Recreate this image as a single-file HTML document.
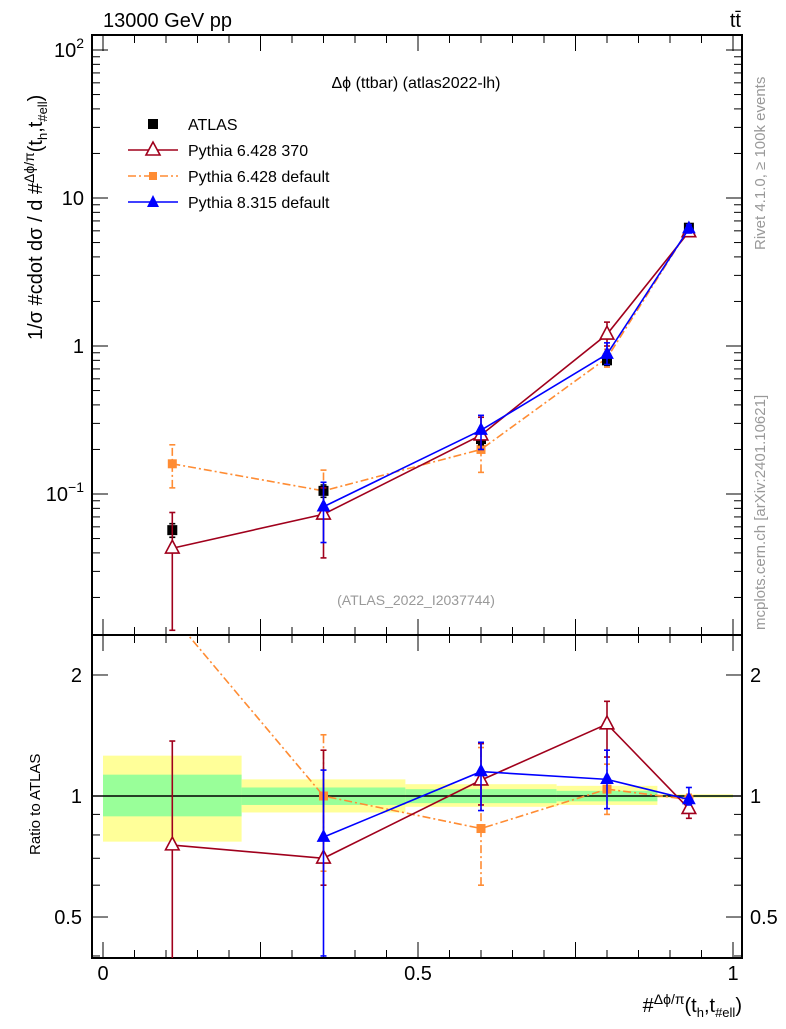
<!DOCTYPE html>
<html><head><meta charset="utf-8"><style>
body{margin:0;background:#fff;width:786px;height:1024px;overflow:hidden;font-family:"Liberation Sans",sans-serif}
svg text{font-family:"Liberation Sans",sans-serif}
</style></head><body>
<svg id="c" width="786" height="1024">
<text x="103" y="27" font-size="20">13000 GeV pp</text>
<text x="741" y="27" font-size="20" text-anchor="end">tt̄</text>
<text x="416" y="88" font-size="16" text-anchor="middle">Δϕ (ttbar) (atlas2022-lh)</text>
<text x="416" y="605" font-size="14" fill="#999" text-anchor="middle">(ATLAS_2022_I2037744)</text>
<text transform="translate(765,250) rotate(-90)" font-size="15" fill="#999">Rivet 4.1.0, ≥ 100k events</text>
<text transform="translate(765,630) rotate(-90)" font-size="15" fill="#999">mcplots.cern.ch [arXiv:2401.10621]</text>
<text transform="translate(42,340) rotate(-90)" font-size="20">1/σ #cdot dσ / d #<tspan font-size="14" dy="-8">Δϕ/π</tspan><tspan dy="8">(t</tspan><tspan font-size="13" dy="5">h</tspan><tspan dy="-5">,t</tspan><tspan font-size="13" dy="5">#ell</tspan><tspan dy="-5">)</tspan></text>
<text transform="translate(40,855) rotate(-90)" font-size="15">Ratio to ATLAS</text>
<text x="742" y="1012" font-size="20" text-anchor="end">#<tspan font-size="14" dy="-8">Δϕ/π</tspan><tspan dy="8">(t</tspan><tspan font-size="13" dy="5">h</tspan><tspan dy="-5">,t</tspan><tspan font-size="13" dy="5">#ell</tspan><tspan dy="-5">)</tspan></text>
</svg>
<script>
const xCenters=[0.11,0.35,0.6,0.8,0.93];
const binEdges=[0,0.22,0.48,0.72,0.88,1];
const atlas=[0.057,0.105,0.235,0.8,6.3];
const atlasErr=[0.006,0.01,0.02,0.06,0.3];
const p6370=[0.043,0.073,0.25,1.2,5.9];
const p6370Lo=[0.012,0.037,0.2,1.0,5.5];
const p6370Hi=[0.075,0.11,0.33,1.45,6.4];
const p6def=[0.16,0.105,0.2,0.83,6.2];
const p6defLo=[0.11,0.075,0.14,0.72,5.8];
const p6defHi=[0.215,0.145,0.27,0.95,6.6];
const p8=[null,0.082,0.27,0.88,6.2];
const p8Lo=[null,0.047,0.2,0.75,5.8];
const p8Hi=[null,0.12,0.34,1.05,6.6];
const r6370=[0.755,0.70,1.095,1.51,0.93];
const r6370Lo=[0.3,0.6,0.95,1.25,0.88];
const r6370Hi=[1.37,1.3,1.35,1.72,0.98];
const r6def=[2.8,1.0,0.83,1.04,0.98];
const r6defLo=[2.8,0.65,0.6,0.9,0.95];
const r6defHi=[2.8,1.42,1.32,1.2,1.01];
const r8=[null,0.79,1.15,1.1,0.98];
const r8Lo=[null,0.4,0.92,0.93,0.95];
const r8Hi=[null,1.16,1.36,1.3,1.05];
const bandYel=[[0.77,1.26],[0.91,1.1],[0.94,1.07],[0.95,1.06],[0.99,1.01]];
const bandGrn=[[0.89,1.13],[0.95,1.05],[0.96,1.04],[0.97,1.03],[0.995,1.005]];
const mainTicks=["10^-1","1","10","10^2"];
const ratioTicks=[0.5,1,2];
const xTicks=[0,0.5,1];

const NS="http://www.w3.org/2000/svg",svg=document.getElementById('c');
const L=92,R=742,T=35,MB=635,B=958;
const X=v=>103+v*630;
const Y=v=>346-148*Math.log10(v);
const YR=r=>796-402*Math.log10(r);
function el(t,a,name){const e=document.createElementNS(NS,t);for(const k in a)e.setAttribute(k,a[k]);


svg.appendChild(e);return e;}
binEdges.slice(0,-1).forEach((x0,i)=>{const x1=binEdges[i+1];
el('rect',{x:X(x0),y:YR(bandYel[i][1]),width:X(x1)-X(x0),height:YR(bandYel[i][0])-YR(bandYel[i][1]),fill:'#ffff99'},'band-yellow');
el('rect',{x:X(x0),y:YR(bandGrn[i][1]),width:X(x1)-X(x0),height:YR(bandGrn[i][0])-YR(bandGrn[i][1]),fill:'#99ff99'},'band-green');});
el('line',{x1:L,x2:R,y1:YR(1),y2:YR(1),stroke:'#000','stroke-width':1.5},'ratio-unity-line');
el('rect',{x:L,y:T,width:R-L,height:MB-T,fill:'none',stroke:'#000','stroke-width':2},'main-frame');
el('rect',{x:L,y:MB,width:R-L,height:B-MB,fill:'none',stroke:'#000','stroke-width':2},'ratio-frame');
for(let d=-2;d<=2;d++)for(let m=1;m<10;m++){const v=m*Math.pow(10,d),y=Y(v);if(y<T||y>MB)continue;const len=m==1?16:8;
el('line',{x1:L,x2:L+len,y1:y,y2:y,stroke:'#000'},'y-tick');el('line',{x1:R-len,x2:R,y1:y,y2:y,stroke:'#000'},'y-tick');}
const labs=[[0.1,'10','−1'],[1,'1',''],[10,'10',''],[100,'10','2']];
labs.forEach((l,i)=>{const t=el('text',{x:84,y:Y(l[0])+7,'font-size':20,'text-anchor':'end'},'y-tick-label');
t.textContent=l[1];if(l[2]){const s=document.createElementNS(NS,'tspan');s.setAttribute('font-size',14);s.setAttribute('dy',-9);s.textContent=l[2];t.appendChild(s);}});
[0.4,0.5,0.6,0.7,0.8,0.9,1,2].forEach(v=>{const y=YR(v);const len=[0.5,1,2].includes(v)?16:8;
el('line',{x1:L,x2:L+len,y1:y,y2:y,stroke:'#000'},'ratio-tick');el('line',{x1:R-len,x2:R,y1:y,y2:y,stroke:'#000'},'ratio-tick');});
ratioTicks.forEach(v=>{const y=YR(v)+7;
const t=el('text',{x:82,y,'font-size':20,'text-anchor':'end'},'ratio-tick-label');t.textContent=v;
const t2=el('text',{x:750,y,'font-size':20},'ratio-tick-label-right');t2.textContent=v;});
for(let i=0;i<=20;i++){const v=i/20,x=X(v),len=i%5==0?16:8;
el('line',{x1:x,x2:x,y1:MB-len,y2:MB,stroke:'#000'},'x-tick');el('line',{x1:x,x2:x,y1:T,y2:T+len,stroke:'#000'},'x-tick');
el('line',{x1:x,x2:x,y1:B-len,y2:B,stroke:'#000'},'x-tick');el('line',{x1:x,x2:x,y1:MB,y2:MB+len,stroke:'#000'},'x-tick');}
xTicks.forEach(v=>{const t=el('text',{x:X(v),y:980,'font-size':20,'text-anchor':'middle'},'x-tick-label');t.textContent=v;});
const cp=el('clipPath',{id:'cm'},'clip-main');el('rect',{x:L,y:T,width:R-L,height:MB-T},'clip-rect');cp.appendChild(svg.lastChild);
const cp2=el('clipPath',{id:'cr'},'clip-ratio');el('rect',{x:L,y:MB,width:R-L,height:B-MB},'clip-rect');cp2.appendChild(svg.lastChild);
function series(vals,lo,hi,yf,color,dash,marker,clip,name,noLine){
const pts=[];vals.forEach((v,i)=>{if(v!=null)pts.push([X(xCenters[i]),yf(v)]);});
if(!noLine)el('polyline',{points:pts.map(p=>p.join(',')).join(' '),fill:'none',stroke:color,'stroke-width':1.6,'stroke-dasharray':dash||'','clip-path':`url(#${clip})`},name+'-line');
vals.forEach((v,i)=>{if(v==null)return;const x=X(xCenters[i]);
if(lo){el('line',{x1:x,x2:x,y1:yf(lo[i]),y2:yf(hi[i]),stroke:color,'stroke-width':1.6,'stroke-dasharray':dash||'','clip-path':`url(#${clip})`},name+'-errorbar');
[lo[i],hi[i]].forEach(e=>el('line',{x1:x-3,x2:x+3,y1:yf(e),y2:yf(e),stroke:color,'stroke-width':1.6,'clip-path':`url(#${clip})`},name+'-errorcap'));}
const y=yf(v);marker(x,y,clip,name);});}
const tri=(fill,stroke,s)=>(x,y,clip,name)=>el('polygon',{points:`${x},${y-s} ${x-s*0.85},${y+s*0.6} ${x+s*0.85},${y+s*0.6}`,fill,stroke,'stroke-width':1.6,'clip-path':`url(#${clip})`},name+'-point');
const sq=(s,fill,stroke)=>(x,y,clip,name)=>el('rect',{x:x-s/2,y:y-s/2,width:s,height:s,fill,stroke,'clip-path':`url(#${clip})`},name+'-point');
series(p6def,p6defLo,p6defHi,Y,'#ff8c33','8,3,2,3',sq(9,'#ff8c33','none'),'cm','pythia6-default');
series(atlas,atlas.map((v,i)=>v-atlasErr[i]),atlas.map((v,i)=>v+atlasErr[i]),Y,'#000',null,sq(10,'#000','none'),'cm','atlas',true);
series(p6370,p6370Lo,p6370Hi,Y,'#a0001c',null,tri('#fff','#a0001c',8),'cm','pythia6-370');
series(p8,p8Lo,p8Hi,Y,'#0000ff',null,tri('#0000ff','#0000ff',6.5),'cm','pythia8-default');
series(r6def,r6defLo,r6defHi,YR,'#ff8c33','8,3,2,3',sq(9,'#ff8c33','none'),'cr','ratio-pythia6-default');
series(r6370,r6370Lo,r6370Hi,YR,'#a0001c',null,tri('#fff','#a0001c',8),'cr','ratio-pythia6-370');
series(r8,r8Lo,r8Hi,YR,'#0000ff',null,tri('#0000ff','#0000ff',6.5),'cr','ratio-pythia8-default');
const leg=[['ATLAS','#000',null,'sq'],['Pythia 6.428 370','#a0001c',null,'otri'],['Pythia 6.428 default','#ff8c33','8,3,2,3','osq'],['Pythia 8.315 default','#0000ff',null,'tri']];
leg.forEach((l,i)=>{const y=124+i*26;
if(i>0)el('line',{x1:128,x2:178,y1:y,y2:y,stroke:l[1],'stroke-width':1.6,'stroke-dasharray':l[2]||''},'legend-line');
if(l[3]=='sq')el('rect',{x:148,y:y-5,width:10,height:10,fill:'#000'},'legend-marker');
if(l[3]=='osq')el('rect',{x:149,y:y-4,width:8,height:8,fill:'#ff8c33'},'legend-marker');
if(l[3]=='otri')el('polygon',{points:`153,${y-8} 146,${y+5} 160,${y+5}`,fill:'#fff',stroke:l[1],'stroke-width':1.6},'legend-marker');
if(l[3]=='tri')el('polygon',{points:`153,${y-7} 147,${y+5} 159,${y+5}`,fill:l[1]},'legend-marker');
const t=el('text',{x:188,y:y+6,'font-size':16},'legend-entry');t.textContent=l[0];});
</script>
</body></html>
